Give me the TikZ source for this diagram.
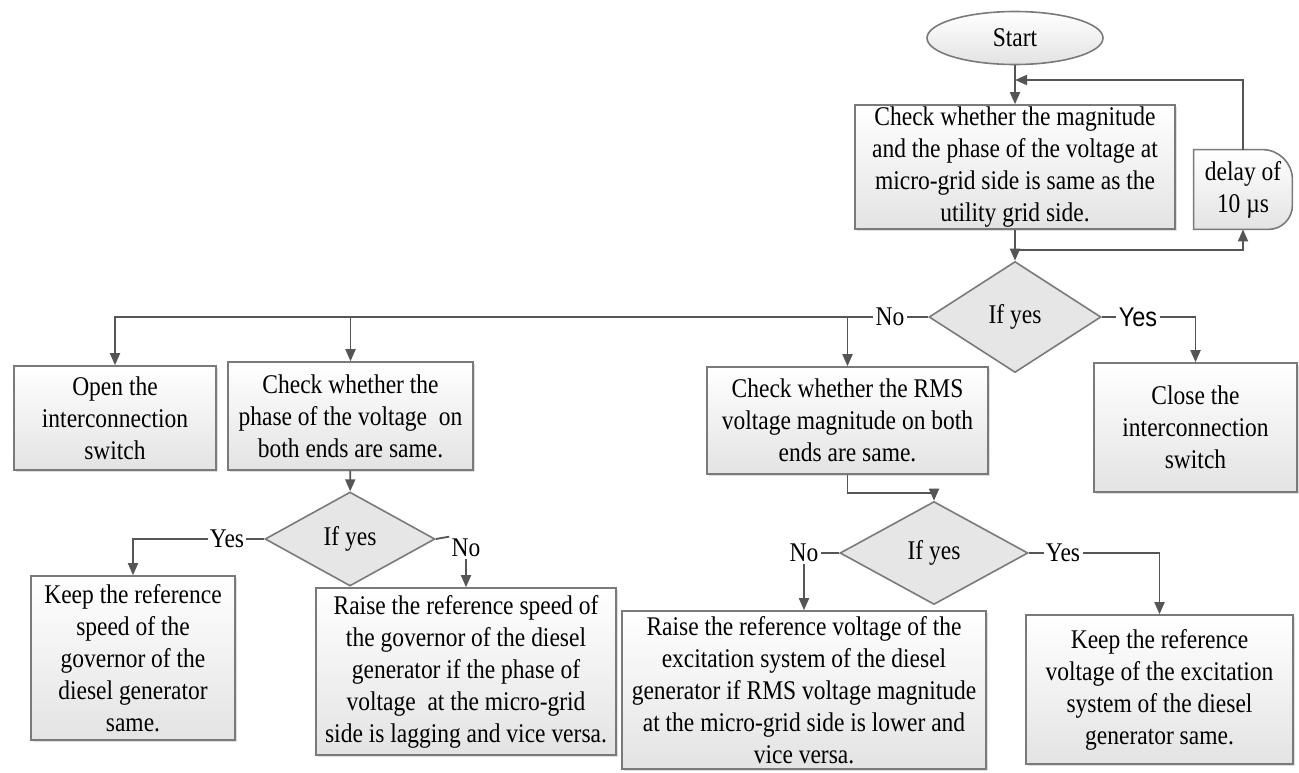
\documentclass[tikz,border=0pt]{standalone}
\usepackage{fontspec}
\setmainfont{Liberation Serif}[FakeStretch=0.87]
\newfontfamily\labelsans{Liberation Sans}[FakeStretch=0.87]
\usepackage{tikz}
\usetikzlibrary{arrows.meta,positioning,calc,shapes.geometric,shadows,backgrounds}
\usepackage{xcolor}
\definecolor{fline}{HTML}{555555}
\definecolor{fedge}{HTML}{7A7A7A}
\definecolor{fbox}{HTML}{E3E3E3}
\definecolor{fdia}{HTML}{E6E6E6}
\tikzset{
  procbox/.style  = {draw=fedge, thick, top color=white, bottom color=fbox,
                     align=center, inner sep=1pt,
                     drop shadow={shadow xshift=1pt, shadow yshift=-1pt,
                                  opacity=0.25, fill=black!50}},
  termbox/.style  = {ellipse, draw=fedge, thick, top color=white,
                     bottom color=fbox, inner sep=0pt},
  decision/.style = {diamond, draw=fedge, thick, fill=fdia, inner sep=0pt},
  tag/.style      = {inner sep=1pt},
  link/.style     = {fline, line width=0.9pt},
  flow/.style     = {link, -{Triangle[length=6pt,width=5pt]}},
}

\begin{document}
\begin{tikzpicture}[x=0.5pt,y=-0.5pt,font=\fontsize{13.5}{16}\selectfont]
\useasboundingbox (0,0) rectangle (1299,772);

% start and the main check with its delay loop
\node[termbox,minimum width=88pt,minimum height=26.5pt] (start) at (1015,38) {Start};
\node[procbox,minimum width=160pt,minimum height=62pt,inner ysep=0pt] (check) at (1015,167)
  {Check whether the magnitude\\ and the phase of the voltage at\\
   micro-grid side is same as the\\ utility grid side.};
\node[align=center,minimum width=49pt,minimum height=39.5pt,inner sep=0pt] (delay) at (1243,189.5)
  {delay of\\ 10 µs};
\begin{scope}[on background layer]
  \path[draw=fedge,thick,top color=white,bottom color=fbox]
    (delay.south west) -- (delay.north west) -- ([xshift=-15pt]delay.north east)
    arc[start angle=90,end angle=0,radius=15pt] -- ([yshift=12pt]delay.south east)
    arc[start angle=0,end angle=-90,radius=12pt] -- cycle;
\end{scope}
\coordinate (merge) at (1015,80);
\coordinate (split) at (1015,250);

\node[decision,minimum width=86pt,minimum height=55.5pt] (ifmain) at (1015,317) {If yes};
\node[tag] (noA) at (890,317) {No};
\node[tag,font=\labelsans\fontsize{13.5}{16}\selectfont] (yesA) at (1138,317) {Yes};

% second row
\node[procbox,minimum width=101pt,minimum height=52pt] (openbox) at (115,418)
  {Open the\\ interconnection\\ switch};
\node[procbox,minimum width=122.5pt,minimum height=54pt] (phase) at (350.5,416)
  {Check whether the\\ phase of the voltage~ on\\ both ends are same.};
\node[procbox,minimum width=140.5pt,minimum height=53.5pt] (rms) at (847.5,420.5)
  {Check whether the RMS\\ voltage magnitude on both\\ ends are same.};
\node[procbox,minimum width=101.5pt,minimum height=64.5pt] (closebox) at (1195.5,427.5)
  {Close the\\ interconnection\\ switch};

% phase decision
\node[decision,minimum width=85pt,minimum height=47pt] (ifphase) at (350,539) {If yes};
\node[tag] (yesB) at (227,539) {Yes};
\node[tag] (noB) at (466,548) {No};
\node[procbox,minimum width=102pt,minimum height=82pt] (keepspeed) at (133,658)
  {Keep the reference\\ speed of the\\ governor of the\\ diesel generator\\ same.};
\node[procbox,minimum width=150pt,minimum height=83.5pt] (raisespeed) at (466,671.5)
  {Raise the reference speed of\\ the governor of the diesel\\ generator if the phase of\\
   voltage~ at the micro-grid\\ side is lagging and vice versa.};

% voltage decision
\node[decision,minimum width=94pt,minimum height=51.5pt] (ifrms) at (934,553) {If yes};
\node[tag] (noC) at (804,553) {No};
\node[tag] (yesC) at (1063,553) {Yes};
\node[procbox,minimum width=182pt,minimum height=79pt] (raisevolt) at (804,690)
  {Raise the reference voltage of the\\ excitation system of the diesel\\
   generator if RMS voltage magnitude\\ at the micro-grid side is lower and\\ vice versa.};
\node[procbox,minimum width=133.5pt,minimum height=74.5pt] (keepvolt) at (1159.5,689.5)
  {Keep the reference\\ voltage of the excitation\\ system of the diesel\\ generator same.};

% connectors
\draw[flow] (start) -- (check);
\draw[flow] (delay.north) |- (merge);
\draw[flow] (check) -- (ifmain);
\draw[flow] (split) -| (delay.south);
\draw[link] (ifmain.west) -- (noA.east);
\draw[flow] (noA.west) -| (openbox.north);
\draw[flow] (phase.north |- ifmain) -- (phase.north);
\draw[flow] (rms.north |- ifmain) -- (rms.north);
\draw[link] (ifmain.east) -- (yesA.west);
\draw[flow] (yesA.east) -| (closebox.north);

\draw[flow] (phase) -- (ifphase);
\draw[link] (ifphase.west) -- (yesB.east);
\draw[flow] (yesB.west) -| (keepspeed.north);
\draw[link] (ifphase.east) -- (noB.north west);
\draw[flow] (noB.south) -- (raisespeed.north);

\draw[flow] (rms.south) -- ++(0,18) -| (ifrms.north);
\draw[link] (ifrms.west) -- (noC.east);
\draw[flow] (noC.south) -- (raisevolt.north);
\draw[link] (ifrms.east) -- (yesC.west);
\draw[flow] (yesC.east) -| (keepvolt.north);
\end{tikzpicture}
\end{document}
